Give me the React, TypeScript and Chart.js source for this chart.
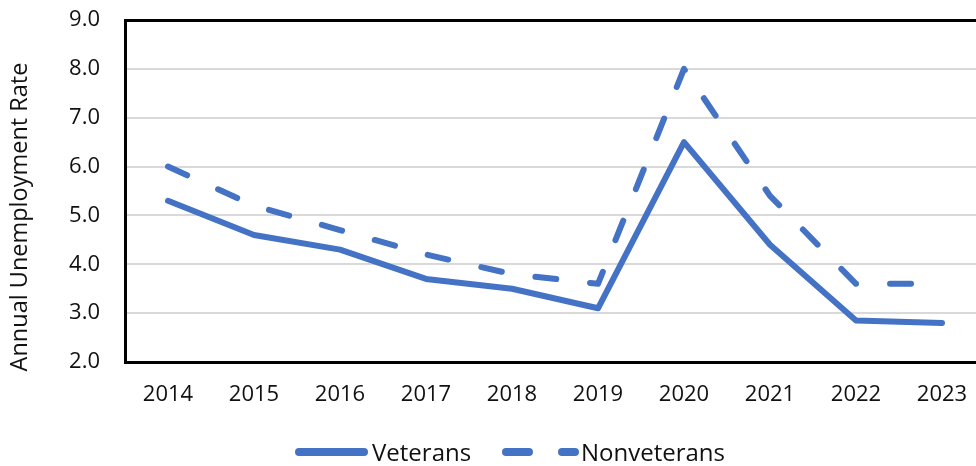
import { useEffect, useRef } from 'react';
import { Chart, registerables } from 'chart.js';

Chart.register(...registerables);

const years = ['2014', '2015', '2016', '2017', '2018', '2019', '2020', '2021', '2022', '2023'];
const veterans = [5.3, 4.6, 4.3, 3.7, 3.5, 3.1, 6.5, 4.4, 2.85, 2.8];
const nonveterans = [6.0, 5.2, 4.7, 4.2, 3.8, 3.6, 8.0, 5.4, 3.6, 3.6];
const seriesNames = ['Veterans', 'Nonveterans'];
const yTitle = 'Annual Unemployment Rate';

const BLUE = '#4472C4';
const FONT = '"Open Sans", "Noto Sans", sans-serif';

const legendPlugin = {
  id: 'customLegend',
  afterDraw(chart: any) {
    const ctx = chart.ctx as CanvasRenderingContext2D;
    ctx.save();
    // y-axis title
    ctx.fillStyle = '#111';
    ctx.font = `23.5px ${FONT}`;
    ctx.textAlign = 'center';
    ctx.textBaseline = 'middle';
    ctx.translate(20, 217);
    ctx.rotate(-Math.PI / 2);
    ctx.fillText(yTitle, 0, 0);
    ctx.setTransform(1, 0, 0, 1, 0, 0);
    // legend samples
    ctx.strokeStyle = BLUE;
    ctx.lineWidth = 8;
    ctx.lineCap = 'round';
    ctx.beginPath();
    ctx.moveTo(299, 452);
    ctx.lineTo(364, 452);
    ctx.stroke();
    ctx.setLineDash([23, 33]);
    ctx.beginPath();
    ctx.moveTo(506, 452);
    ctx.lineTo(575, 452);
    ctx.stroke();
    ctx.setLineDash([]);
    ctx.fillStyle = '#111';
    ctx.font = `24px ${FONT}`;
    ctx.textBaseline = 'alphabetic';
    ctx.textAlign = 'left';
    ctx.fillText(seriesNames[0], 372, 461);
    ctx.fillText(seriesNames[1], 581, 461);
    ctx.restore();
  },
};

export default function App() {
  const ref = useRef<HTMLCanvasElement>(null);
  useEffect(() => {
    if (!ref.current) return;
    const chart = new Chart(ref.current, {
      type: 'line',
      data: {
        labels: years,
        datasets: [
          {
            label: seriesNames[0],
            data: veterans,
            borderColor: BLUE,
            backgroundColor: BLUE,
            borderWidth: 6,
            borderCapStyle: 'round',
            borderJoinStyle: 'round',
            pointRadius: 0,
            tension: 0,
          },
          {
            label: seriesNames[1],
            data: nonveterans,
            borderColor: BLUE,
            backgroundColor: BLUE,
            borderWidth: 6,
            borderDash: [21, 34],
            borderCapStyle: 'round',
            borderJoinStyle: 'round',
            pointRadius: 0,
            tension: 0,
          },
        ],
      },
      options: {
        responsive: false,
        animation: false,
        layout: { padding: { top: 20, left: 0, right: 5, bottom: 0 } },
        plugins: {
          legend: { display: false },
          tooltip: { enabled: false },
        },
        scales: {
          x: {
            offset: true,
            grid: { display: false, drawTicks: false },
            border: { display: true, color: '#000', width: 3 },
            ticks: {
              color: '#111',
              font: { family: FONT, size: 22 },
              padding: 20,
              maxRotation: 0,
            },
            afterFit: (s: any) => {
              s.height = 104;
            },
          },
          y: {
            min: 2,
            max: 9,
            grid: {
              drawTicks: false,
              color: (c: any) => (c.tick && c.tick.value === 9 ? '#000' : '#d9d9d9'),
              lineWidth: (c: any) => (c.tick && c.tick.value === 9 ? 3 : 2),
            },
            border: { display: true, color: '#000', width: 3 },
            ticks: {
              stepSize: 1,
              color: '#111',
              padding: 25,
              font: { family: FONT, size: 22 },
              callback: (v: any) => Number(v).toFixed(1),
            },
            afterFit: (s: any) => {
              s.width = 125;
              s.paddingTop = 0;
              s.paddingBottom = 0;
            },
          },
        },
      },
      plugins: [legendPlugin],
    });
    return () => chart.destroy();
  }, []);
  return (
    <div style={{ position: 'absolute', left: 0, top: 0, width: 976, height: 466, overflow: 'hidden', background: '#fff' }}>
      <canvas ref={ref} width={990} height={466} style={{ display: 'block' }} />
    </div>
  );
}
